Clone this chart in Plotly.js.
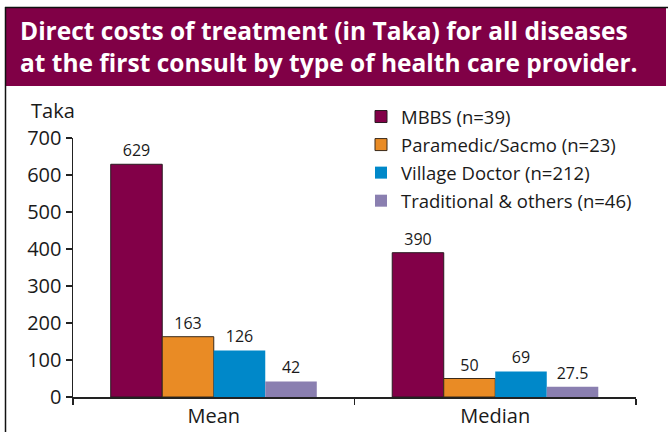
<!DOCTYPE html>
<html>
<head>
<meta charset="utf-8">
<script src="https://cdn.plot.ly/plotly-3.0.1.min.js"></script>
<style>
  html, body { margin: 0; padding: 0; background: #fff; }
  #chart { width: 668px; height: 432px; }
</style>
</head>
<body>
<div id="chart"></div>
<script>
// data
const categories = ["Mean", "Median"];
const providers = ["MBBS (n=39)", "Paramedic/Sacmo (n=23)", "Village Doctor (n=212)", "Traditional & others (n=46)"];
const mbbs = [629, 390];
const paramedic = [163, 50];
const villageDoctor = [126, 69];
const traditional = [42, 27.5];
const yTicks = [0, 100, 200, 300, 400, 500, 600, 700];

const colors = ["#820048", "#e98b25", "#0088c9", "#8a7fb0"];
const outlines = ["#2a1a20", "#3a2a1a", "rgba(0,0,0,0)", "rgba(0,0,0,0)"];
const series = [mbbs, paramedic, villageDoctor, traditional];

const traces = series.map((vals, i) => ({
  type: "bar",
  name: providers[i],
  x: categories,
  y: vals,
  text: vals.map(v => String(v)),
  textposition: "outside",
  textfont: { family: "Open Sans, sans-serif", size: 16, color: "#1a1a1a" },
  cliponaxis: false,
  marker: { color: colors[i], line: { color: outlines[i], width: 1 } },
  legendgroup: "g" + i
}));

// pixel helpers for the frame (plot area: x 73..636, y 138..397)
const L = 73, R = 636, T = 138, B = 397;
const px = x => (x - L) / (R - L);
const py = y => (B - y) / (B - T);

const layout = {
  width: 668,
  height: 432,
  margin: { l: L, r: 668 - R, t: T, b: 432 - B },
  paper_bgcolor: "#fff",
  plot_bgcolor: "#fff",
  font: { family: "Open Sans, sans-serif", color: "#1a1a1a" },
  barmode: "group",
  bargap: 0.268,
  bargroupgap: 0,
  showlegend: true,
  legend: {
    x: px(361), y: py(98), xanchor: "left", yanchor: "top",
    font: { size: 18.5, color: "#1a1a1a" },
    traceorder: "grouped",
    tracegroupgap: 1,
    bgcolor: "rgba(0,0,0,0)"
  },
  xaxis: {
    type: "category",
    showline: true, linecolor: "#222", linewidth: 1.5,
    ticks: "outside", ticklen: 6, tickcolor: "#222", tickwidth: 1.5,
    tickson: "boundaries",
    tickfont: { size: 20, color: "#1a1a1a" },
    showgrid: false, zeroline: false, fixedrange: true
  },
  yaxis: {
    range: [0, 700],
    tickvals: yTicks,
    showline: true, linecolor: "#222", linewidth: 1.5,
    ticks: "outside", ticklen: 6, tickcolor: "#222", tickwidth: 1.5,
    tickfont: { size: 20, color: "#1a1a1a" },
    showgrid: false, zeroline: false, fixedrange: true
  },
  shapes: [
    { type: "rect", xref: "paper", yref: "paper", x0: px(6), x1: px(666), y0: py(8), y1: py(86),
      fillcolor: "#800046", line: { width: 0 }, layer: "below" },
    { type: "line", xref: "paper", yref: "paper", x0: px(5), x1: px(668), y0: py(7.5), y1: py(7.5),
      line: { color: "#111", width: 1.5 } },
    { type: "line", xref: "paper", yref: "paper", x0: px(5.5), x1: px(5.5), y0: py(7), y1: py(432),
      line: { color: "#111", width: 1.5 } }
  ],
  annotations: [
    { xref: "paper", yref: "paper", x: px(18), y: py(46), xanchor: "left", yanchor: "middle",
      align: "left", showarrow: false,
      text: "Direct costs of treatment (in Taka) for all diseases<br>at the first consult by type of health care provider.",
      font: { family: "Open Sans, sans-serif", size: 24.5, weight: 700, color: "#ffffff" } },
    { xref: "paper", yref: "paper", x: px(29), y: py(110), xanchor: "left", yanchor: "middle",
      showarrow: false, text: "Taka",
      font: { family: "Open Sans, sans-serif", size: 20, color: "#1a1a1a" } }
  ]
};

Plotly.newPlot("chart", traces, layout, { displayModeBar: false, staticPlot: true });
</script>
</body>
</html>
